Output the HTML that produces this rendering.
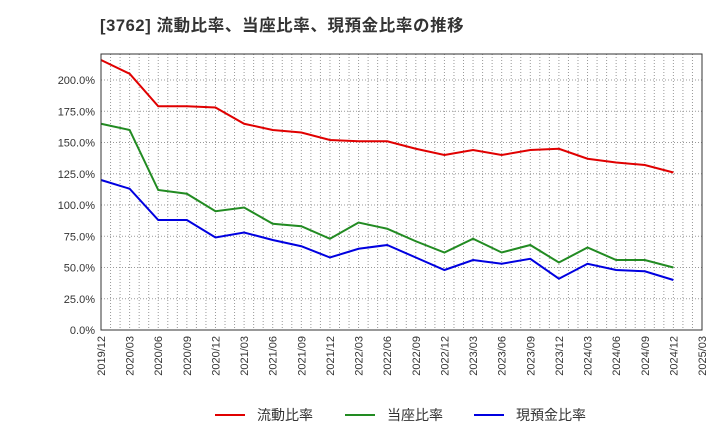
<!DOCTYPE html>
<html><head><meta charset="utf-8"><style>
body{margin:0;background:#fff;font-family:"Liberation Sans","Noto Sans CJK JP",sans-serif;}
</style></head><body>
<svg id="c" width="720" height="440" xmlns="http://www.w3.org/2000/svg">
<text x="100" y="31" font-size="16.5" letter-spacing="0.6" font-weight="bold" fill="#333">[3762]  流動比率、当座比率、現預金比率の推移</text>
<g id="grid"></g><g id="axes"></g><g id="series"></g>
<rect x="101" y="54" width="601" height="276" fill="none" stroke="#333" stroke-width="1"/>
<g id="legend"></g>
</svg>
<script>
const categories=["2019/12","2020/03","2020/06","2020/09","2020/12","2021/03","2021/06","2021/09","2021/12","2022/03","2022/06","2022/09","2022/12","2023/03","2023/06","2023/09","2023/12","2024/03","2024/06","2024/09","2024/12","2025/03"];
const currentRatio=[216,205,179,179,178,165,160,158,152,151,151,145,140,144,140,144,145,137,134,132,126];
const quickRatio=[165,160,112,109,95,98,85,83,73,86,81,71,62,73,62,68,54,66,56,56,50];
const cashRatio=[120,113,88,88,74,78,72,67,58,65,68,58,48,56,53,57,41,53,48,47,40];
const yTicks=[0,25,50,75,100,125,150,175,200];
const seriesNames=["流動比率","当座比率","現預金比率"];
const L=101,R=702,T=54,B=330,YMAX=220.8;
const NS="http://www.w3.org/2000/svg";
const xq=i=>L+(R-L)*i/(categories.length-1);
const y=v=>B-(B-T)*v/YMAX;
function mk(p,t,a){const e=document.createElementNS(NS,t);for(const k in a)e.setAttribute(k,a[k]);p.appendChild(e);return e;}
const g=document.getElementById('grid'),ax=document.getElementById('axes'),s=document.getElementById('series'),lg=document.getElementById('legend');
const nm=(categories.length-1)*3;
for(let m=1;m<nm;m++){const x=L+(R-L)*m/nm;const e=mk(g,'line',{x1:x,x2:x,y1:T,y2:B,stroke:'#999','stroke-dasharray':'1,2','stroke-width':1});

}
yTicks.forEach(v=>{if(v>0){const e=mk(g,'line',{x1:L,x2:R,y1:y(v),y2:y(v),stroke:'#999','stroke-dasharray':'1,2'});

}
const t=mk(ax,'text',{x:L-6,y:y(v)+4,'text-anchor':'end','font-size':11,fill:'#333'});t.textContent=v.toFixed(1)+'%';

});
categories.forEach((c,i)=>{const x=xq(i);const t=mk(ax,'text',{x:0,y:0,'text-anchor':'end','font-size':11,fill:'#333',transform:`translate(${x+4},${B+6}) rotate(-90)`});t.textContent=c;

});
const colors=['#e00000','#228b22','#0000e0'];
[currentRatio,quickRatio,cashRatio].forEach((d,k)=>{const p=mk(s,'polyline',{points:d.map((v,i)=>xq(i)+','+y(v)).join(' '),fill:'none',stroke:colors[k],'stroke-width':2});


const lx=[215,345,474][k];
const ln=mk(lg,'line',{x1:lx,x2:lx+30,y1:415,y2:415,stroke:colors[k],'stroke-width':2});


const t=mk(lg,'text',{x:lx+42,y:420,'font-size':14,fill:'#333'});t.textContent=seriesNames[k];

});
</script>
</body></html>
